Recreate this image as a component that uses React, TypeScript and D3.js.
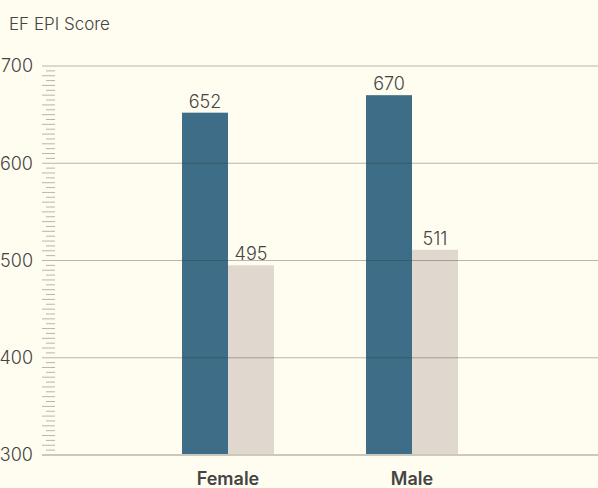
import React from "react";
import * as d3 from "d3";

const categories = ["Female", "Male"];
const seriesKeys = ["primary", "secondary"];
const primaryValues = [652, 670];
const secondaryValues = [495, 511];
const yTicks = [300, 400, 500, 600, 700];
const yTitle = "EF EPI Score";

const W = 598;
const H = 488;

export default function App() {
  const y = d3.scaleLinear().domain([300, 700]).range([455, 66]);
  const x0 = d3
    .scaleBand<string>()
    .domain(categories)
    .range([136, 504])
    .paddingInner(0.5)
    .paddingOuter(0.25);
  const x1 = d3.scaleBand<string>().domain(seriesKeys).range([0, x0.bandwidth()]);
  const colors: Record<string, string> = { primary: "#3e6e87", secondary: "#e0d7ce" };
  const values: Record<string, number[]> = { primary: primaryValues, secondary: secondaryValues };
  const minor = d3.range(300, 701, 5);
  const font = "Inter, 'Open Sans', sans-serif";

  return (
    <svg
      width={W}
      height={H}
      style={{ position: "fixed", left: 0, top: 0, background: "#fffdf0" }}
      fontFamily={font}
    >
      <rect x={0} y={0} width={W} height={H} fill="#fffdf0" />
      <text x={9} y={30} fontSize={17} fontWeight={300} fill="#444">
        {yTitle}
      </text>
      {minor.map((v) => (
        <line
          key={"m" + v}
          x1={v % 10 === 0 ? 42 : 46}
          x2={55}
          y1={y(v)}
          y2={y(v)}
          stroke="#b9b5aa"
          strokeWidth={1}
        />
      ))}
      {categories.map((c, ci) =>
        seriesKeys.map((k) => {
          const v = values[k][ci];
          const bx = (x0(c) ?? 0) + (x1(k) ?? 0);
          return (
            <g key={c + k}>
              <rect x={bx} y={y(v)} width={x1.bandwidth()} height={y(300) - y(v)} fill={colors[k]} />
              <text
                x={bx + x1.bandwidth() / 2}
                y={y(v) - 5}
                textAnchor="middle"
                fontSize={18}
                fontWeight={300}
                fill="#444"
              >
                {v}
              </text>
            </g>
          );
        })
      )}
      {yTicks.map((t) =>
        t === 300 ? null : (
          <line key={"g" + t} x1={55} x2={W} y1={y(t)} y2={y(t)} stroke="#333" strokeOpacity={0.35} strokeWidth={1} />
        )
      )}
      <line x1={42} x2={W} y1={y(300)} y2={y(300)} stroke="#cdc8bc" strokeWidth={2} />
      {yTicks.map((t) => (
        <text key={"t" + t} x={33} y={y(t)} dy="0.36em" textAnchor="end" fontSize={18} fontWeight={300} fill="#444">
          {t}
        </text>
      ))}
      {categories.map((c) => (
        <text
          key={"c" + c}
          x={(x0(c) ?? 0) + x0.bandwidth() / 2}
          y={485}
          textAnchor="middle"
          fontSize={18}
          fontWeight={600}
          fill="#444"
        >
          {c}
        </text>
      ))}
    </svg>
  );
}
